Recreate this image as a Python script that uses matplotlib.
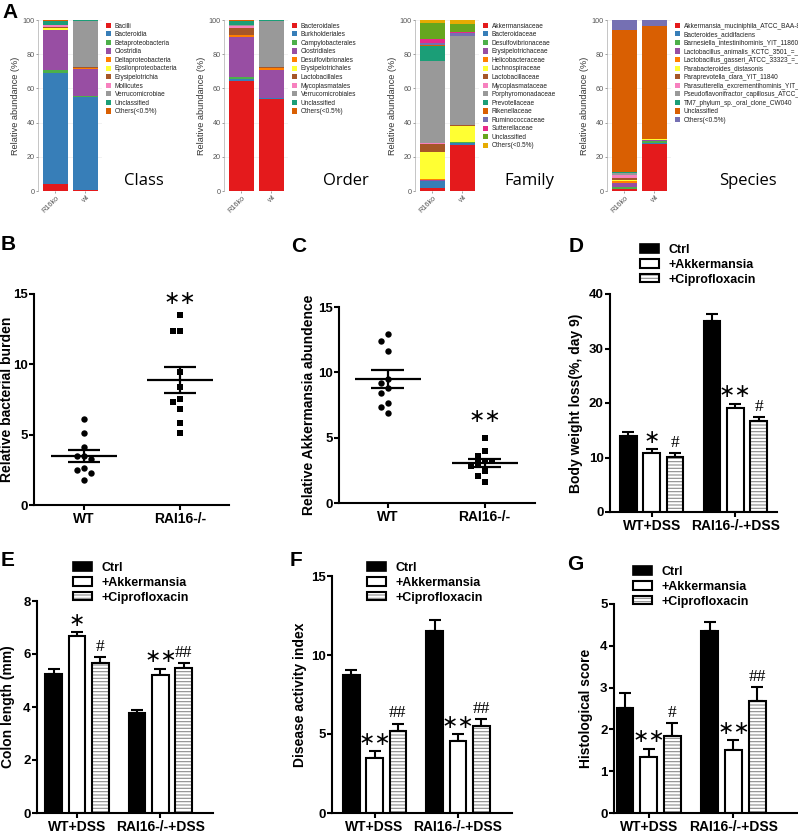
import numpy as np
import matplotlib as mpl
mpl.use('Agg')
import matplotlib.pyplot as plt
from matplotlib.patches import Patch
from matplotlib.legend_handler import HandlerTuple

W, H = 798, 834

# ---------------- panel A : relative abundance ----------------
samples = ['R16ko', 'wt']

class_names = ['Bacilli', 'Bacteroidia', 'Betaproteobacteria', 'Clostridia',
               'Deltaproteobacteria', 'Epsilonproteobacteria', 'Erysipelotrichia',
               'Mollicutes', 'Verrucomicrobiae', 'Unclassified', 'Others(<0.5%)']
class_ko = [4.0, 65.0, 1.5, 23.5, 0.3, 1.2, 0.5, 1.0, 0.2, 2.3, 0.5]
class_wt = [0.5, 54.5, 0.3, 16.2, 0.3, 0.0, 0.7, 0.2, 26.8, 0.3, 0.2]

order_names = ['Bacteroidales', 'Burkholderiales', 'Campylobacterales', 'Clostridiales',
               'Desulfovibrionales', 'Erysipelotrichales', 'Lactobacillales',
               'Mycoplasmatales', 'Verrucomicrobiales', 'Unclassified', 'Others(<0.5%)']
order_ko = [64.5, 0.8, 1.2, 23.5, 1.0, 0.5, 4.0, 1.0, 0.5, 2.5, 0.5]
order_wt = [54.0, 0.2, 0.3, 16.2, 1.0, 0.2, 0.6, 0.1, 26.6, 0.6, 0.2]

family_names = ['Akkermansiaceae', 'Bacteroidaceae', 'Desulfovibrionaceae',
                'Erysipelotrichaceae', 'Helicobacteraceae', 'Lachnospiraceae',
                'Lactobacillaceae', 'Mycoplasmataceae', 'Porphyromonadaceae',
                'Prevotellaceae', 'Rikenellaceae', 'Ruminococcaceae',
                'Sutterellaceae', 'Unclassified', 'Others(<0.5%)']
family_ko = [1.5, 4.2, 0.3, 0.3, 0.9, 15.6, 4.6, 0.7, 47.9, 8.8, 0.7, 1.2, 1.9, 9.9, 1.5]
family_wt = [27.0, 1.3, 0.1, 0.1, 0.1, 9.6, 0.2, 0.1, 52.0, 0.1, 0.1, 1.9, 0.1, 5.1, 2.2]

species_names = ['Akkermansia_muciniphila_ATCC_BAA-835', 'Bacteroides_acidifaciens',
                 'Barnesiella_intestinihominis_YIT_11860',
                 'Lactobacillus_animalis_KCTC_3501_=_DSM_20602',
                 'Lactobacillus_gasseri_ATCC_33323_=_JCM_1131',
                 'Parabacteroides_distasonis', 'Paraprevotella_clara_YIT_11840',
                 'Parasutterella_excrementihominis_YIT_11859',
                 'Pseudoflavonifractor_capillosus_ATCC_29799',
                 'TM7_phylum_sp._oral_clone_CW040', 'Unclassified', 'Others(<0.5%)']
species_ko = [1.0, 0.4, 0.8, 2.4, 1.0, 1.0, 0.8, 2.0, 1.0, 1.0, 82.7, 5.9]
species_wt = [27.2, 0.8, 1.5, 0.2, 0.2, 0.3, 0.1, 0.2, 0.1, 0.1, 66.0, 3.3]

set1 = ['#E41A1C', '#377EB8', '#4DAF4A', '#984EA3', '#FF7F00', '#FFFF33',
        '#A65628', '#F781BF', '#999999']
dark2 = ['#1B9E77', '#D95F02', '#7570B3', '#E7298A', '#66A61E', '#E6AB02']

# ---------------- panels B, C : scatter ----------------
scatter_groups = ['WT', 'RAI16-/-']
burden_wt = [6.1, 5.1, 4.15, 3.5, 3.5, 3.3, 2.6, 2.5, 2.25, 1.8]
burden_ko = [13.5, 12.4, 12.4, 9.45, 8.4, 7.55, 7.35, 6.8, 5.85, 5.1]
akk_wt = [12.9, 12.4, 11.6, 9.5, 9.2, 8.8, 8.4, 7.65, 7.35, 6.9]
akk_ko = [5.0, 3.95, 3.6, 3.2, 3.2, 3.05, 2.8, 2.45, 2.1, 1.6]

# ---------------- panels D-G : bars ----------------
bar_groups = ['WT+DSS', 'RAI16-/-+DSS']
treatments = ['Ctrl', '+Akkermansia', '+Ciprofloxacin']

bw_ctrl, bw_ctrl_err = [13.9, 35.0], [0.7, 1.4]
bw_akk, bw_akk_err = [10.9, 19.1], [0.6, 0.8]
bw_cip, bw_cip_err = [10.1, 16.7], [0.75, 0.7]
bw_akk_sig, bw_cip_sig = ['∗', '∗∗'], ['#', '#']

cl_ctrl, cl_ctrl_err = [5.26, 3.77], [0.19, 0.13]
cl_akk, cl_akk_err = [6.69, 5.21], [0.13, 0.24]
cl_cip, cl_cip_err = [5.66, 5.48], [0.23, 0.18]
cl_akk_sig, cl_cip_sig = ['∗', '∗∗'], ['#', '##']

dai_ctrl, dai_ctrl_err = [8.73, 11.54], [0.31, 0.66]
dai_akk, dai_akk_err = [3.51, 4.54], [0.42, 0.43]
dai_cip, dai_cip_err = [5.2, 5.51], [0.46, 0.43]
dai_akk_sig, dai_cip_sig = ['∗∗', '∗∗'], ['##', '##']

hs_ctrl, hs_ctrl_err = [2.52, 4.36], [0.35, 0.2]
hs_akk, hs_akk_err = [1.34, 1.51], [0.2, 0.23]
hs_cip, hs_cip_err = [1.85, 2.68], [0.3, 0.33]
hs_akk_sig, hs_cip_sig = ['∗∗', '∗∗'], ['#', '##']

SANS = 'Liberation Sans'
NARROW = ['Liberation Sans Narrow', 'Liberation Sans']

plt.rcParams['font.family'] = SANS
plt.rcParams['hatch.linewidth'] = 0.8

fig = plt.figure(figsize=(W / 100, H / 100), dpi=100)


def add_ax(l, t, r, b):
    return fig.add_axes([l / W, 1 - b / H, (r - l) / W, (b - t) / H])


def stack_panel(l, names, ko, wt, title, tx):
    ax = add_ax(l, 20, l + 64, 191)
    colors = (set1 + dark2)[:len(names)]
    vals = np.array([ko, wt])
    bottom = np.zeros(2)
    for i, n in enumerate(names):
        ax.bar([1, 2], vals[:, i], bottom=bottom, width=0.85, color=colors[i],
               linewidth=0, label=n, zorder=2)
        bottom += vals[:, i]
    ax.set_xlim(0.42, 2.55)
    ax.set_ylim(0, 100)
    ax.set_yticks([0, 20, 40, 60, 80, 100])
    ax.yaxis.grid(True, color='#EDEDED', lw=0.5)
    ax.set_axisbelow(True)
    ax.set_xticks([1, 2])
    ax.set_xticklabels(samples, rotation=45, ha='right', rotation_mode='anchor')
    ax.tick_params(labelsize=5.2, colors='#555555', length=1.5, width=0.4, pad=1)
    for s in ['top', 'right', 'bottom']:
        ax.spines[s].set_visible(False)
    ax.spines['left'].set_color('#999999')
    ax.spines['left'].set_linewidth(0.4)
    ax.set_ylabel('Relative abundance (%)', fontsize=6.6, color='#333333', labelpad=2)
    leg = ax.legend(loc='upper left', bbox_to_anchor=(1.06, 0.985), frameon=False,
                    fontsize=4.7, handlelength=0.85, handleheight=0.85,
                    handletextpad=0.5, labelspacing=0.24, borderpad=0, borderaxespad=0)
    for t in leg.get_texts():
        t.set_color('#222222')
    fig.text(tx / W, 1 - 181 / H, title, fontsize=12, family='Open Sans',
             ha='center', va='center')
    return ax


stack_panel(38, class_names, class_ko, class_wt, 'Class', 144)
stack_panel(224, order_names, order_ko, order_wt, 'Order', 346)
stack_panel(415, family_names, family_ko, family_wt, 'Family', 529)
stack_panel(607, species_names, species_ko, species_wt, 'Species', 748)


def style_axes(ax):
    for s in ['top', 'right']:
        ax.spines[s].set_visible(False)
    for s in ['left', 'bottom']:
        ax.spines[s].set_linewidth(1.5)
    ax.tick_params(length=3.5, width=1.5, pad=1.2)
    for t in ax.get_yticklabels():
        t.set_family(NARROW)
        t.set_fontweight('bold')
        t.set_fontsize(9.5)


def swarm(vals, ypx, xpx, d=7.0):
    placed, offs = [], []
    for v in vals:
        for k in [0, -1, 1, -2, 2, -3, 3]:
            o = k * d / xpx
            if all(abs(v - pv) * ypx >= d or abs(o - po) * xpx >= d for pv, po in placed):
                break
        placed.append((v, o))
        offs.append(o)
    return np.array(offs)


def scatter_panel(box, a, b, ylabel, xlim, lab_x, star_pad):
    ax = add_ax(*box)
    ypx = (box[3] - box[1]) / 15.0
    xpx = (box[2] - box[0]) / (xlim[1] - xlim[0])
    for pos, vals, mk in [(1, a, 'o'), (2, b, 's')]:
        vals = np.array(vals)
        ax.plot(pos + swarm(vals, ypx, xpx), vals, mk, color='k', ms=4.6, mew=0,
                clip_on=False, zorder=3)
        m = vals.mean()
        sem = vals.std(ddof=1) / np.sqrt(len(vals))
        ax.hlines(m, pos - 0.34, pos + 0.34, color='k', lw=1.6, zorder=4)
        ax.hlines([m - sem, m + sem], pos - 0.17, pos + 0.17, color='k', lw=1.6, zorder=4)
        ax.vlines(pos, m - sem, m + sem, color='k', lw=1.6, zorder=4)
    ax.annotate('∗∗', (2, max(b)), xytext=(0, star_pad), textcoords='offset points',
                ha='center', va='center', fontsize=14, family='DejaVu Sans')
    ax.set_xlim(*xlim)
    ax.set_ylim(0, 15)
    ax.set_yticks([0, 5, 10, 15])
    ax.set_xticks([1, 2])
    ax.set_xticklabels(scatter_groups, family=NARROW, fontweight='bold', fontsize=10)
    ax.set_ylabel(ylabel, fontsize=10, fontweight='bold')
    ax.yaxis.set_label_coords(lab_x, 0.5)
    style_axes(ax)
    return ax


scatter_panel((34, 294, 229, 505), burden_wt, burden_ko, 'Relative bacterial burden',
              (0.48, 2.51), -0.102, 12)
scatter_panel((339, 307, 535, 503), akk_wt, akk_ko, 'Relative Akkermansia abundence',
              (0.5, 2.52), -0.118, 15)


def bar_panel(box, xlim, ylim, yticks, ylabel, lab_x, ctrl, akk, cip,
              errs, sigs, leg_xy):
    ax = add_ax(*box)
    x = np.arange(2)
    off, bw = 0.28, 0.2
    ax.bar(x - off, ctrl, bw, color='k', edgecolor='k', lw=1.5, zorder=2)
    ax.bar(x, akk, bw, color='white', edgecolor='k', lw=1.5, zorder=2)
    ax.bar(x + off, cip, bw, color='white', edgecolor='#8C8C8C', lw=0,
           hatch='-----', zorder=2)
    ax.bar(x + off, cip, bw, fill=False, edgecolor='k', lw=1.5, zorder=3)
    for xs, vals, e in zip([x - off, x, x + off], [ctrl, akk, cip], errs):
        ax.errorbar(xs, vals, yerr=[np.zeros(2), e], fmt='none', ecolor='k',
                    elinewidth=1.5, capsize=4, capthick=1.5, zorder=1)
    for xs, vals, e, labs in zip([x, x + off], [akk, cip], errs[1:], sigs):
        for xi, v, ei, s in zip(xs, vals, e, labs):
            if s.startswith('#'):
                ax.annotate(s, (xi, v + ei), xytext=(0, 1.5), textcoords='offset points',
                            ha='center', va='bottom', fontsize=12.5,
                            family='Liberation Serif')
            else:
                ax.annotate(s, (xi, v + ei), xytext=(0, 8.5), textcoords='offset points',
                            ha='center', va='center', fontsize=14, family='DejaVu Sans')
    ax.set_xlim(*xlim)
    ax.set_ylim(*ylim)
    ax.set_yticks(yticks)
    ax.set_xticks(x)
    ax.set_xticklabels(bar_groups, fontweight='bold', fontsize=10)
    ax.set_ylabel(ylabel, fontsize=10, fontweight='bold')
    ax.yaxis.set_label_coords(lab_x, 0.5)
    style_axes(ax)
    handles = [Patch(facecolor='k', edgecolor='k', lw=1.2),
               Patch(facecolor='white', edgecolor='k', lw=1.5),
               (Patch(facecolor='white', edgecolor='#8C8C8C', lw=0, hatch='-----'),
                Patch(facecolor='none', edgecolor='k', lw=1.5))]
    fig.legend(handles, treatments, loc='upper left',
               bbox_to_anchor=(leg_xy[0] / W, 1 - leg_xy[1] / H),
               frameon=False, handlelength=1.5, handleheight=0.65,
               handletextpad=0.8, labelspacing=0.22, borderpad=0, borderaxespad=0,
               prop={'family': SANS, 'weight': 'bold', 'size': 9},
               handler_map={tuple: HandlerTuple(ndivide=1, pad=0)})
    return ax


bar_panel((610, 294, 777, 512), (-0.5, 1.5), (0, 40), [0, 10, 20, 30, 40],
          'Body weight loss(%, day 9)', -0.16,
          bw_ctrl, bw_akk, bw_cip, [bw_ctrl_err, bw_akk_err, bw_cip_err],
          [bw_akk_sig, bw_cip_sig], (640, 244))
bar_panel((37, 601, 213, 813), (-0.48, 1.63), (0, 8), [0, 2, 4, 6, 8],
          'Colon length (mm)', -0.125,
          cl_ctrl, cl_akk, cl_cip, [cl_ctrl_err, cl_akk_err, cl_cip_err],
          [cl_akk_sig, cl_cip_sig], (73, 562))
bar_panel((332, 576, 512, 813), (-0.51, 1.65), (0, 15), [0, 5, 10, 15],
          'Disease activity index', -0.138,
          dai_ctrl, dai_akk, dai_cip, [dai_ctrl_err, dai_akk_err, dai_cip_err],
          [dai_akk_sig, dai_cip_sig], (367, 562))
bar_panel((614, 604, 797, 813), (-0.41, 1.75), (0, 5), [0, 1, 2, 3, 4, 5],
          'Histological score', -0.115,
          hs_ctrl, hs_akk, hs_cip, [hs_ctrl_err, hs_akk_err, hs_cip_err],
          [hs_akk_sig, hs_cip_sig], (633, 566))

# panel letters
for lab, px, py in [('A', 2, 12), ('B', 1, 245), ('C', 291, 246), ('D', 569, 246),
                    ('E', 1, 560), ('F', 290, 560), ('G', 567, 565)]:
    fig.text(px / W, 1 - py / H, lab, fontsize=15, fontweight='bold',
             ha='left', va='center')

fig.savefig('out.png', dpi=100)
plt.close(fig)
